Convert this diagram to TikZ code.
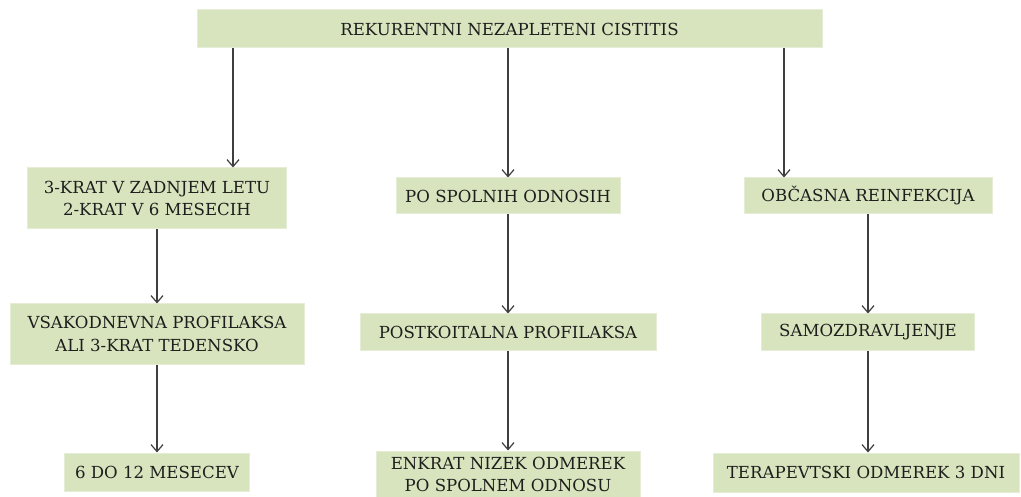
\documentclass[tikz,border=0pt]{standalone}
\usepackage{fontspec}
\setmainfont{DejaVu Serif}
\newfontfamily\boxfont{DejaVu Serif}
\usetikzlibrary{arrows.meta}
\definecolor{boxgreen}{HTML}{D8E4BD}
\definecolor{boxedge}{HTML}{E6EDD6}
\definecolor{linegray}{HTML}{3F3F3F}
\definecolor{txt}{HTML}{1E1E1E}
\tikzset{
  stepbox/.style={fill=boxgreen, draw=boxedge, line width=1pt, inner sep=0pt,
    align=center, text=txt, font=\boxfont\fontsize{16.6}{22.7}\selectfont},
  arr/.style={draw=linegray, line width=1.3pt,
    -{Straight Barb[length=7pt,width=12pt,line width=1.2pt]}}
}
\begin{document}
\begin{tikzpicture}[x=1pt,y=-1pt]
\useasboundingbox (0,0) rectangle (1021,497);
% top node
\node[stepbox, minimum width=625, minimum height=38] (top) at (509.5,29) {REKURENTNI NEZAPLETENI CISTITIS};
% left branch
\node[stepbox, minimum width=259, minimum height=61] (L1) at (157,198.5) {3-KRAT V ZADNJEM LETU\\2-KRAT V 6 MESECIH};
\node[stepbox, minimum width=294, minimum height=60] (L2) at (157,334) {VSAKODNEVNA PROFILAKSA\\ALI 3-KRAT TEDENSKO};
\node[stepbox, minimum width=185, minimum height=38] (L3) at (157,472) {6 DO 12 MESECEV};
% middle branch
\node[stepbox, minimum width=224, minimum height=36] (M1) at (508,196) {PO SPOLNIH ODNOSIH};
\node[stepbox, minimum width=296, minimum height=37] (M2) at (508,332.5) {POSTKOITALNA PROFILAKSA};
\node[stepbox, minimum width=264, minimum height=47] (M3) at (508,474.5) {ENKRAT NIZEK ODMEREK\\PO SPOLNEM ODNOSU};
% right branch
\node[stepbox, minimum width=248, minimum height=36] (R1) at (868,196) {OBČASNA REINFEKCIJA};
\node[stepbox, minimum width=213, minimum height=37] (R2) at (868,332.5) {SAMOZDRAVLJENJE};
\node[stepbox, minimum width=306, minimum height=39] (R3) at (866,472.5) {TERAPEVTSKI ODMEREK 3 DNI};
% connectors from the top node
\draw[arr] (top.south -| 233,0) -- (L1.north -| 233,0);
\draw[arr] (top.south -| M1.north) -- (M1.north);
\draw[arr] (top.south -| 784,0) -- (R1.north -| 784,0);
% connectors within each branch
\draw[arr] (L1.south) -- (L1.south |- L2.north);
\draw[arr] (L2.south) -- (L2.south |- L3.north);
\draw[arr] (M1.south) -- (M2.north);
\draw[arr] (M2.south) -- (M3.north);
\draw[arr] (R1.south) -- (R1.south |- R2.north);
\draw[arr] (R2.south) -- (R2.south |- R3.north);
\end{tikzpicture}
\end{document}
